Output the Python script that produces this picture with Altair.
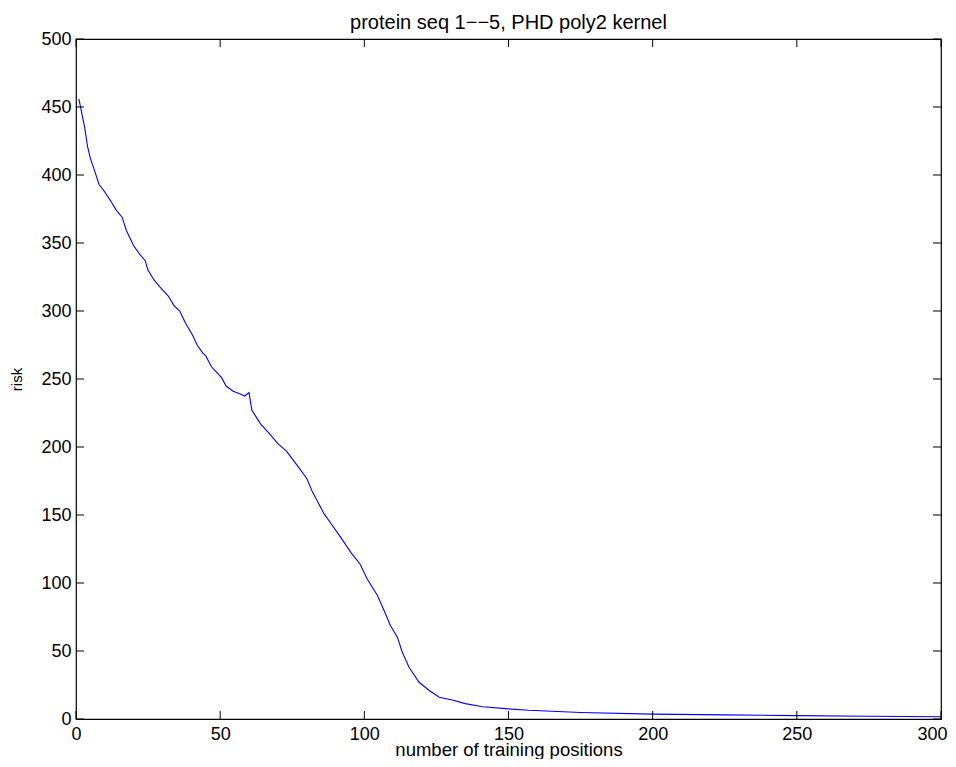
import altair as alt
import pandas as pd

# Curve
positions = [1, 3, 4, 5, 6, 8, 9.5, 12, 14, 16, 17.5, 20, 22, 24, 25, 27, 29, 32, 34, 36,
             38, 40.5, 42, 44, 45, 47, 50.5, 52, 54.5, 57, 58.5, 60, 61, 64, 67, 70, 73,
             76.5, 80, 82, 86, 88, 92, 95.5, 98.5, 101, 104.5, 107, 109, 111.5, 113,
             115.5, 119, 122.5, 126, 130.5, 135, 141, 149, 157, 175, 200, 225, 250, 275, 300]
risk = [456, 435, 421, 412, 406, 393, 389, 381, 374, 369, 359, 348, 342, 337, 330, 323,
        318, 311, 304, 300, 291, 282, 275, 269, 267, 259, 251, 245, 241, 239, 237.5, 240,
        227, 217, 210, 202.5, 197, 187, 177, 167, 151, 145, 133, 122, 114, 103, 91, 79,
        69, 60, 50, 38, 27, 21, 16, 14, 11.3, 9, 7.6, 6.4, 4.8, 3.6, 3, 2.5, 2, 1.6]

x_ticks = [0, 50, 100, 150, 200, 250, 300]
y_ticks = [0, 50, 100, 150, 200, 250, 300, 350, 400, 450, 500]

title_text = "protein seq 1\u2212\u22125, PHD poly2 kernel"
x_title = "number of training positions"
y_title = "risk"

W, H = 865, 680
FONT = "Liberation Sans"
FS = 18
TL = 8

df = pd.DataFrame({"x": positions, "y": risk})
dfx = pd.DataFrame({"t": x_ticks})
dfy = pd.DataFrame({"t": y_ticks})

xscale = alt.Scale(domain=[0, 300], nice=False, zero=False)
yscale = alt.Scale(domain=[0, 500], nice=False, zero=False)

line = alt.Chart(df).mark_line(color="#0000ff", strokeWidth=1.1).encode(
    x=alt.X("x:Q", scale=xscale, title=x_title,
            axis=alt.Axis(values=x_ticks, ticks=False, tickSize=0, domain=False, grid=False,
                          labelFont=FONT, labelFontSize=FS, labelColor="black", labelPadding=6,
                          labelOffset={"condition": {"test": "datum.value == 300", "value": -9},
                                       "value": 0},
                          titleFont=FONT, titleFontSize=18.5, titleFontWeight="normal",
                          titleColor="black", titleBaseline="alphabetic", titleY=36,
                          labelFlush=False)),
    y=alt.Y("y:Q", scale=yscale, title=y_title,
            axis=alt.Axis(values=y_ticks, ticks=False, tickSize=0, domain=False, grid=False,
                          labelFont=FONT, labelFontSize=FS, labelColor="black", labelPadding=5,
                          titleFont=FONT, titleFontSize=15, titleFontWeight="normal",
                          titleColor="black", titleBaseline="alphabetic", titleX=-55,
                          labelFlush=False)),
)

bottom_ticks = alt.Chart(dfx).mark_rule(color="black", strokeWidth=1).encode(
    x=alt.X("t:Q", scale=xscale), y=alt.value(H), y2=alt.value(H - TL))
top_ticks = alt.Chart(dfx).mark_rule(color="black", strokeWidth=1).encode(
    x=alt.X("t:Q", scale=xscale), y=alt.value(0), y2=alt.value(TL))
left_ticks = alt.Chart(dfy).mark_rule(color="black", strokeWidth=1).encode(
    y=alt.Y("t:Q", scale=yscale), x=alt.value(0), x2=alt.value(TL))
right_ticks = alt.Chart(dfy).mark_rule(color="black", strokeWidth=1).encode(
    y=alt.Y("t:Q", scale=yscale), x=alt.value(W), x2=alt.value(W - TL))

chart = alt.layer(line, bottom_ticks, top_ticks, left_ticks, right_ticks).properties(
    width=W, height=H,
    background="white",
    title=alt.TitleParams(title_text, font=FONT, fontSize=20, fontWeight="normal",
                          color="black", anchor="middle", offset=-3, frame="group"),
    autosize=alt.AutoSizeParams(type="none"),
    padding={"left": 68, "top": 31, "right": 7, "bottom": 40},
).configure_view(stroke="black", strokeWidth=1.2)

chart.save("out.html", embed_options={"renderer": "svg", "actions": False})
